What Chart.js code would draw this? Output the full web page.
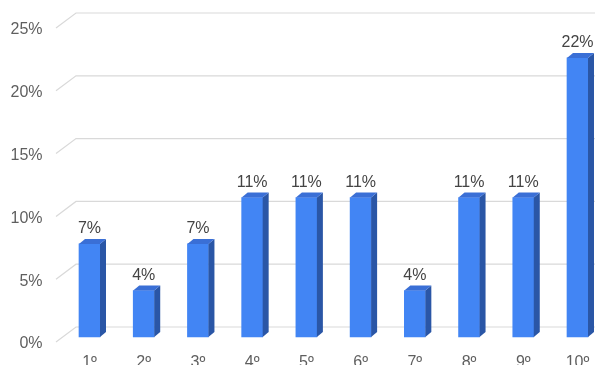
<!DOCTYPE html>
<html>
<head>
<meta charset="utf-8">
<script src="https://cdn.jsdelivr.net/npm/chart.js@4"></script>
<style>
  html, body { margin: 0; padding: 0; background: #fff; }
  #wrap { width: 595px; height: 365px; position: relative; }
</style>
</head>
<body>
<div id="wrap"><canvas id="grafico"></canvas></div>
<script>
// posiciones y porcentaje de cada una
const categorias = ['1º', '2º', '3º', '4º', '5º', '6º', '7º', '8º', '9º', '10º'];
const porcentajes = [7.41, 3.70, 7.41, 11.11, 11.11, 11.11, 3.70, 11.11, 11.11, 22.22];
const ticksY = [0, 5, 10, 15, 20, 25];

const FUENTE = '"Liberation Sans", Arial, sans-serif';
const AZUL = '#4285f4';
const LADO = '#2a56a6';
const TAPA = '#3a6fd6';

// profundidad de las barras y del "suelo"
const profBarra = { dx: 6, dy: 5 };

const efecto3d = {
  id: 'efecto3d',
  beforeDatasetsDraw(chart) {
    const ctx = chart.ctx;
    const y = chart.scales.y;
    const left = chart.chartArea.left;
    ctx.save();
    ctx.strokeStyle = '#d9d9d9';
    ctx.lineWidth = 1.2;
    ticksY.forEach(v => {
      const py = y.getPixelForValue(v);
      ctx.beginPath();
      ctx.moveTo(left - 33.5, py + 5);
      ctx.lineTo(left - 13.5, py - 10);
      ctx.lineTo(chart.width, py - 10);
      ctx.stroke();
    });
    ctx.restore();
  },
  afterDatasetsDraw(chart) {
    const ctx = chart.ctx;
    const meta = chart.getDatasetMeta(0);
    ctx.save();
    meta.data.forEach((bar, i) => {
      const w = bar.width;
      const x0 = bar.x - w / 2, x1 = bar.x + w / 2;
      const yt = bar.y, yb = bar.base;
      const dx = profBarra.dx, dy = profBarra.dy;
      // cara lateral
      ctx.fillStyle = LADO;
      ctx.beginPath();
      ctx.moveTo(x1, yt);
      ctx.lineTo(x1 + dx, yt - dy);
      ctx.lineTo(x1 + dx, yb - dy);
      ctx.lineTo(x1, yb);
      ctx.closePath();
      ctx.fill();
      // tapa
      ctx.fillStyle = TAPA;
      ctx.beginPath();
      ctx.moveTo(x0, yt);
      ctx.lineTo(x0 + dx, yt - dy);
      ctx.lineTo(x1 + dx, yt - dy);
      ctx.lineTo(x1, yt);
      ctx.closePath();
      ctx.fill();
      // etiqueta del valor
      ctx.fillStyle = '#444';
      ctx.font = '16px ' + FUENTE;
      ctx.textAlign = 'center';
      ctx.textBaseline = 'middle';
      ctx.fillText(Math.round(porcentajes[i]) + '%', bar.x, yt - 15);
    });
    ctx.restore();
  }
};

new Chart(document.getElementById('grafico'), {
  type: 'bar',
  data: {
    labels: categorias,
    datasets: [{
      data: porcentajes,
      backgroundColor: AZUL,
      borderWidth: 0,
      barThickness: 21,
      clip: false
    }]
  },
  options: {
    responsive: true,
    maintainAspectRatio: false,
    animation: false,
    layout: { padding: { top: 23, right: 17.5, left: 0, bottom: 0 } },
    plugins: { legend: { display: false }, tooltip: { enabled: false } },
    scales: {
      x: {
        offset: false,
        grid: { display: false, drawTicks: false },
        border: { display: false },
        ticks: { color: '#5f5f5f', font: { size: 16, family: FUENTE }, padding: 16, maxRotation: 0, autoSkip: false },
        afterFit(s) {
          s.height = 28;
          s.paddingLeft = 0;
          s.paddingRight = 0;
        }
      },
      y: {
        min: 0,
        max: 25,
        grid: { display: false, drawTicks: false },
        border: { display: false },
        ticks: {
          stepSize: 5,
          color: '#5f5f5f',
          font: { size: 16, family: FUENTE },
          padding: 47,
          labelOffset: 7,
          callback: v => v + '%'
        },
        afterFit(s) {
          s.width = 89.5;
          s.paddingTop = 0;
          s.paddingBottom = 0;
        }
      }
    }
  },
  plugins: [efecto3d]
});
</script>
</body>
</html>
